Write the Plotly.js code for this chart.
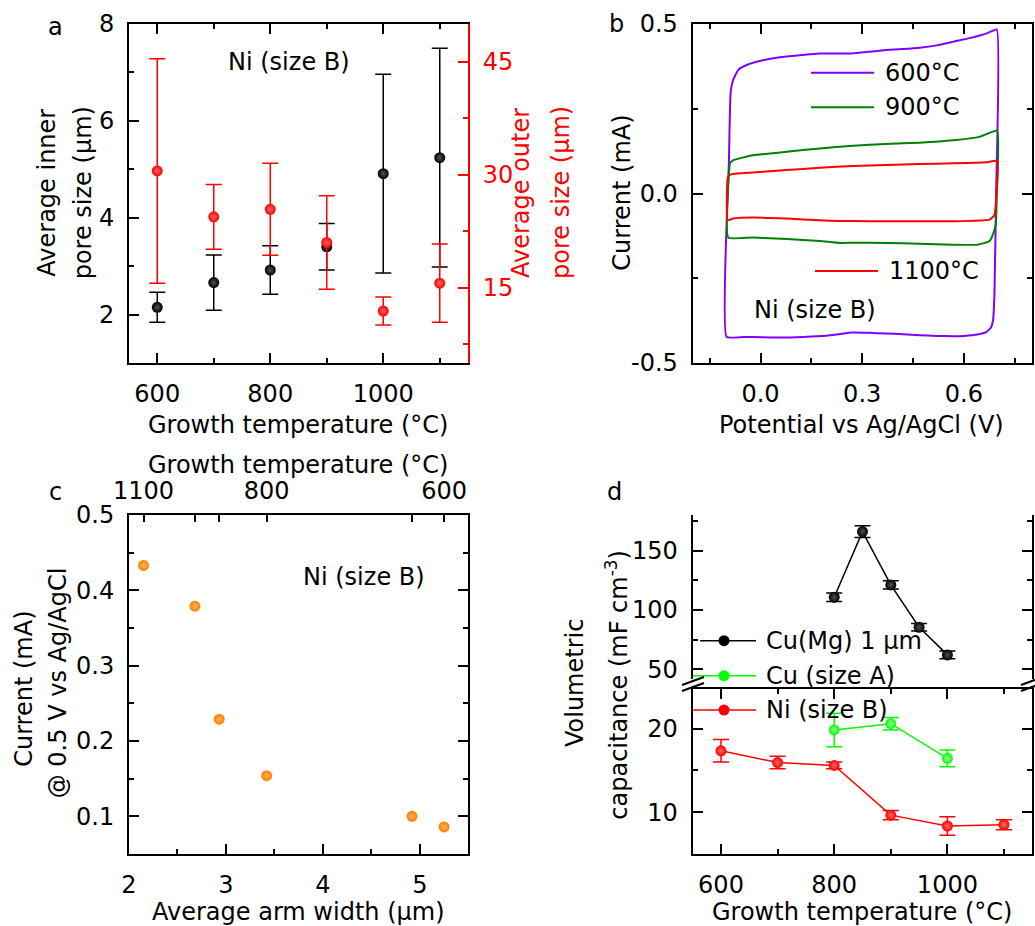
<!DOCTYPE html>
<html><head><meta charset="utf-8">
<script src="https://cdn.plot.ly/plotly-3.0.1.min.js"></script>
<style>html,body{margin:0;padding:0;background:#fff}#chart{width:1035px;height:926px}</style>
</head><body><div id="chart"></div>
<script>
// ---------- data ----------
// panel a
const tempsA = [600, 700, 800, 900, 1000, 1100];
const innerPore = [2.15, 2.66, 2.92, 3.40, 4.91, 5.24];
const innerErr = [0.31, 0.57, 0.50, 0.48, 2.05, 2.26];
const outerPore = [30.5, 24.4, 25.4, 21.0, 11.9, 15.6];
const outerErr = [14.9, 4.3, 6.1, 6.2, 1.85, 5.2];
// panel b (CV loops)
const cv600V = [-0.100,-0.093,-0.088,-0.081,-0.066,-0.041,-0.002,0.057,0.116,0.175,0.270,0.320,0.370,0.420,0.470,0.520,0.570,0.620,0.670,0.697,0.695,0.690,0.686,0.680,0.666,0.640,0.600,0.570,0.520,0.470,0.420,0.370,0.320,0.270,0.240,0.200,0.150,0.080,0.000,-0.050,-0.100];
const cv600I = [-0.423,0.100,0.300,0.334,0.364,0.379,0.391,0.402,0.408,0.413,0.413,0.418,0.423,0.426,0.430,0.437,0.448,0.459,0.473,0.484,0.000,-0.300,-0.374,-0.395,-0.409,-0.416,-0.420,-0.421,-0.420,-0.418,-0.415,-0.413,-0.411,-0.410,-0.414,-0.419,-0.422,-0.425,-0.424,-0.423,-0.423];
const cv900V = [-0.095,-0.093,-0.090,-0.081,-0.022,0.077,0.175,0.273,0.371,0.469,0.568,0.646,0.698,0.697,0.694,0.690,0.676,0.640,0.568,0.469,0.371,0.273,0.234,0.175,0.077,-0.022,-0.095];
const cv900I = [-0.130,0.060,0.089,0.098,0.113,0.123,0.133,0.141,0.146,0.150,0.157,0.167,0.185,0.000,-0.090,-0.108,-0.140,-0.151,-0.151,-0.148,-0.146,-0.145,-0.146,-0.140,-0.134,-0.130,-0.130];
const cv1100V = [-0.097,-0.096,-0.085,-0.022,0.077,0.175,0.273,0.371,0.469,0.568,0.666,0.698,0.695,0.690,0.676,0.568,0.469,0.371,0.273,0.234,0.175,0.077,-0.022,-0.081,-0.097];
const cv1100I = [-0.079,0.049,0.057,0.062,0.069,0.076,0.081,0.084,0.087,0.089,0.092,0.096,-0.020,-0.064,-0.077,-0.082,-0.082,-0.082,-0.081,-0.081,-0.079,-0.074,-0.071,-0.074,-0.079];
const cvLabels = ['600°C', '900°C', '1100°C'];
// panel c
const armWidth = [2.15, 2.68, 2.93, 3.42, 4.92, 5.25];
const currentAt05 = [0.433, 0.379, 0.229, 0.154, 0.100, 0.086];
const topTickVals = [2.15, 3.42, 5.25];
const topTickLabels = ['1100', '800', '600'];
const topMinorVals = [2.68, 2.93, 4.92];
// panel d
const cuMgT = [800, 850, 900, 950, 1000];
const cuMgC = [110.7, 166, 121.1, 85.4, 62.1];
const cuMgErr = [3.5, 5, 3.5, 3.2, 3.2];
const cuAT = [800, 900, 1000];
const cuAC = [19.85, 20.6, 16.45];
const cuAErr = [2.0, 0.75, 1.0];
const niT = [600, 700, 800, 900, 1000, 1100];
const niC = [17.35, 15.95, 15.6, 9.65, 8.35, 8.5];
const niErr = [1.35, 0.75, 0.4, 0.55, 1.1, 0.6];
const legendD = ['Cu(Mg) 1 µm', 'Cu (size A)', 'Ni (size B)'];

// ---------- helpers ----------
const W = 1035, H = 926;
const PX = x => x / W, PY = y => 1 - y / H;
const FONT = 'DejaVu Sans', FS = 24;
const PURPLE = '#8000ff', DGREEN = '#008000', RED = '#ff0000', LIME = '#00ff00', ORANGE = '#ff8000';

function minor(o) { return Object.assign({ticks: 'inside', ticklen: 5, tickwidth: 2, tickcolor: 'black', showgrid: false}, o); }
function ax(o) {
  return Object.assign({showline: true, linewidth: 2, linecolor: 'black', ticks: 'inside', ticklen: 10, tickwidth: 2,
    tickcolor: 'black', showgrid: false, zeroline: false, tickfont: {family: FONT, size: FS, color: 'black'},
    ticklabelstandoff: 8, fixedrange: true}, o);
}
function ann(text, x, y, o) {
  return Object.assign({text: text, x: PX(x), y: PY(y), xref: 'paper', yref: 'paper', showarrow: false,
    xanchor: 'center', yanchor: 'middle', font: {family: FONT, size: FS, color: 'black'}}, o || {});
}
function seg(x0, y0, x1, y1, color, w) {
  return {type: 'line', xref: 'paper', yref: 'paper', x0: PX(x0), y0: PY(y0), x1: PX(x1), y1: PY(y1), line: {color: color, width: w || 2}};
}
function dot(cx, cy, r, color) {
  return {type: 'circle', xref: 'paper', yref: 'paper', x0: PX(cx - r), x1: PX(cx + r), y0: PY(cy + r), y1: PY(cy - r), fillcolor: color, line: {width: 0}};
}
function ball(color, center) { return {color: color, size: 11, line: {width: 0}, gradient: {type: 'radial', color: center}}; }
function err(arr, color) { return {type: 'data', array: arr, visible: true, color: color, thickness: 1.5, width: 8}; }

// ---------- traces ----------
const traces = [
  {x: tempsA, y: innerPore, xaxis: 'x', yaxis: 'y', mode: 'markers', marker: ball('#000000', '#505050'), error_y: err(innerErr, 'black')},
  {x: tempsA, y: outerPore, xaxis: 'x', yaxis: 'y2', mode: 'markers', marker: ball(RED, '#ff6a6a'), error_y: err(outerErr, RED)},
  {x: cv600V, y: cv600I, xaxis: 'x2', yaxis: 'y3', mode: 'lines', line: {color: PURPLE, width: 2, shape: 'spline', smoothing: 0.4}, name: cvLabels[0]},
  {x: cv900V, y: cv900I, xaxis: 'x2', yaxis: 'y3', mode: 'lines', line: {color: DGREEN, width: 2, shape: 'spline', smoothing: 0.4}, name: cvLabels[1]},
  {x: cv1100V, y: cv1100I, xaxis: 'x2', yaxis: 'y3', mode: 'lines', line: {color: RED, width: 2, shape: 'spline', smoothing: 0.4}, name: cvLabels[2]},
  {x: armWidth, y: currentAt05, xaxis: 'x3', yaxis: 'y4', mode: 'markers', marker: ball(ORANGE, '#ffb060')},
  // same points referenced on the top (temperature) axis so that it is drawn
  {x: armWidth, y: currentAt05, xaxis: 'x4', yaxis: 'y4', mode: 'markers', marker: {opacity: 0, size: 1}, hoverinfo: 'skip'},
  {x: cuMgT, y: cuMgC, xaxis: 'x5', yaxis: 'y5', mode: 'lines+markers', line: {color: 'black', width: 1.5}, marker: ball('#000000', '#505050'), error_y: err(cuMgErr, 'black')},
  {x: cuAT, y: cuAC, xaxis: 'x5', yaxis: 'y6', mode: 'lines+markers', line: {color: LIME, width: 1.5}, marker: ball(LIME, '#a0ffa0'), error_y: err(cuAErr, LIME)},
  {x: niT, y: niC, xaxis: 'x5', yaxis: 'y6', mode: 'lines+markers', line: {color: RED, width: 1.5}, marker: ball(RED, '#ff6a6a'), error_y: err(niErr, RED)}
];

// ---------- layout ----------
const redTick = {family: FONT, size: FS, color: RED};
const layout = {
  width: W, height: H, margin: {l: 0, r: 0, t: 0, b: 0}, showlegend: false,
  paper_bgcolor: 'white', plot_bgcolor: 'rgba(0,0,0,0)', font: {family: FONT, size: FS, color: 'black'},
  // panel a
  xaxis: ax({domain: [PX(129), PX(468)], anchor: 'y', range: [550, 1150], dtick: 200, tick0: 0, mirror: 'ticks', minor: minor({dtick: 100})}),
  yaxis: ax({domain: [PY(363), PY(24)], anchor: 'x', range: [1, 8], dtick: 2, tick0: 0, minor: minor({dtick: 1})}),
  yaxis2: ax({overlaying: 'y', side: 'right', anchor: 'x', range: [5, 50], dtick: 15, tick0: 0, linecolor: RED, tickcolor: RED,
    tickfont: redTick, minor: minor({dtick: 7.5, tickcolor: RED})}),
  // panel b
  xaxis2: ax({domain: [PX(692.7), PX(1031.7)], anchor: 'y3', range: [-0.2, 0.8], dtick: 0.3, tick0: 0, tickformat: '.1f', mirror: 'ticks',
    minor: minor({tickvals: [-0.15, 0.15, 0.45, 0.75]})}),
  yaxis3: ax({domain: [PY(363), PY(24)], anchor: 'x2', range: [-0.5, 0.5], tickvals: [-0.5, 0, 0.5], ticktext: ['-0.5', '0.0', '0.5'], mirror: 'ticks',
    minor: minor({tickvals: [-0.25, 0.25]})}),
  // panel c
  xaxis3: ax({domain: [PX(129), PX(468.3)], anchor: 'y4', range: [2, 5.5], dtick: 1, tick0: 0, minor: minor({dtick: 0.5})}),
  xaxis4: ax({overlaying: 'x3', side: 'top', anchor: 'y4', range: [2, 5.5], tickvals: topTickVals, ticktext: topTickLabels, ticklen: 7,
    ticklabelstandoff: 4, minor: minor({tickvals: topMinorVals, ticklen: 7})}),
  yaxis4: ax({domain: [PY(854), PY(515)], anchor: 'x3', range: [0.05, 0.5], dtick: 0.1, tick0: 0, tickformat: '.1f', mirror: 'ticks', minor: minor({dtick: 0.05})}),
  // panel d
  xaxis5: ax({domain: [PX(692.7), PX(1032.3)], anchor: 'y6', range: [550, 1150], dtick: 200, tick0: 0, mirror: 'ticks', minor: minor({dtick: 100})}),
  yaxis5: ax({domain: [PY(679), PY(515)], anchor: 'x5', range: [41.8, 180], dtick: 50, tick0: 0, mirror: 'ticks', minor: minor({dtick: 25})}),
  yaxis6: ax({domain: [PY(854), PY(689)], anchor: 'x5', range: [5, 24.75], dtick: 10, tick0: 0, mirror: 'ticks', minor: minor({dtick: 5})}),
  annotations: [
    // a
    ann('a', 55, 27),
    ann('Ni (size B)', 289, 62),
    ann('Growth temperature (°C)', 298, 425),
    ann('Average inner', 46.7, 193, {textangle: -90}),
    ann('pore size (µm)', 83.3, 193, {textangle: -90}),
    ann('Average outer', 521, 193, {textangle: -90, font: redTick}),
    ann('pore size (µm)', 561, 193, {textangle: -90, font: redTick}),
    // b
    ann('b', 616.7, 24),
    ann('Current (mA)', 621.7, 193, {textangle: -90}),
    ann('Potential vs Ag/AgCl (V)', 861.7, 425),
    ann(cvLabels[0], 882.7, 72.7, {xanchor: 'left'}),
    ann(cvLabels[1], 882.7, 107.3, {xanchor: 'left'}),
    ann(cvLabels[2], 886.7, 271, {xanchor: 'left'}),
    ann('Ni (size B)', 751.7, 310, {xanchor: 'left'}),
    // c
    ann('c', 55, 492),
    ann('Growth temperature (°C)', 297.5, 465),
    ann('Ni (size B)', 364, 577),
    ann('Current (mA)', 23.3, 688.5, {textangle: -90}),
    ann('@ 0.5 V vs Ag/AgCl', 58.3, 683, {textangle: -90}),
    ann('Average arm width (µm)', 298, 911.7),
    // d
    ann('d', 614, 491.7),
    ann('Volumetric', 575, 683, {textangle: -90}),
    ann('capacitance (mF cm<sup>-3</sup>)', 616.7, 685, {textangle: -90}),
    ann('Growth temperature (°C)', 861.7, 911.7),
    ann(legendD[0], 764.3, 640.7, {xanchor: 'left'}),
    ann(legendD[1], 764.3, 675.7, {xanchor: 'left'}),
    ann(legendD[2], 764.3, 710, {xanchor: 'left'})
  ],
  shapes: [
    // legend b
    seg(811, 72.7, 874, 72.7, PURPLE, 2),
    seg(811, 107.3, 874, 107.3, DGREEN, 2),
    seg(815, 271, 878, 271, RED, 2),
    // legend d
    seg(700, 640.7, 756, 640.7, 'black', 1.5), dot(724, 640.7, 5.5, 'black'),
    seg(693, 675.7, 756, 675.7, LIME, 1.5), dot(724, 675.7, 5.5, LIME),
    seg(693, 710, 756, 710, RED, 1.5), dot(724, 710, 5.5, RED),
    // axis break marks d
    seg(682, 685, 704, 677, 'black', 2), seg(682, 691, 704, 683, 'black', 2),
    seg(1021, 685, 1043, 677, 'black', 2), seg(1021, 691, 1043, 683, 'black', 2)
  ]
};

Plotly.newPlot('chart', traces, layout, {staticPlot: true, displayModeBar: false});
</script></body></html>
